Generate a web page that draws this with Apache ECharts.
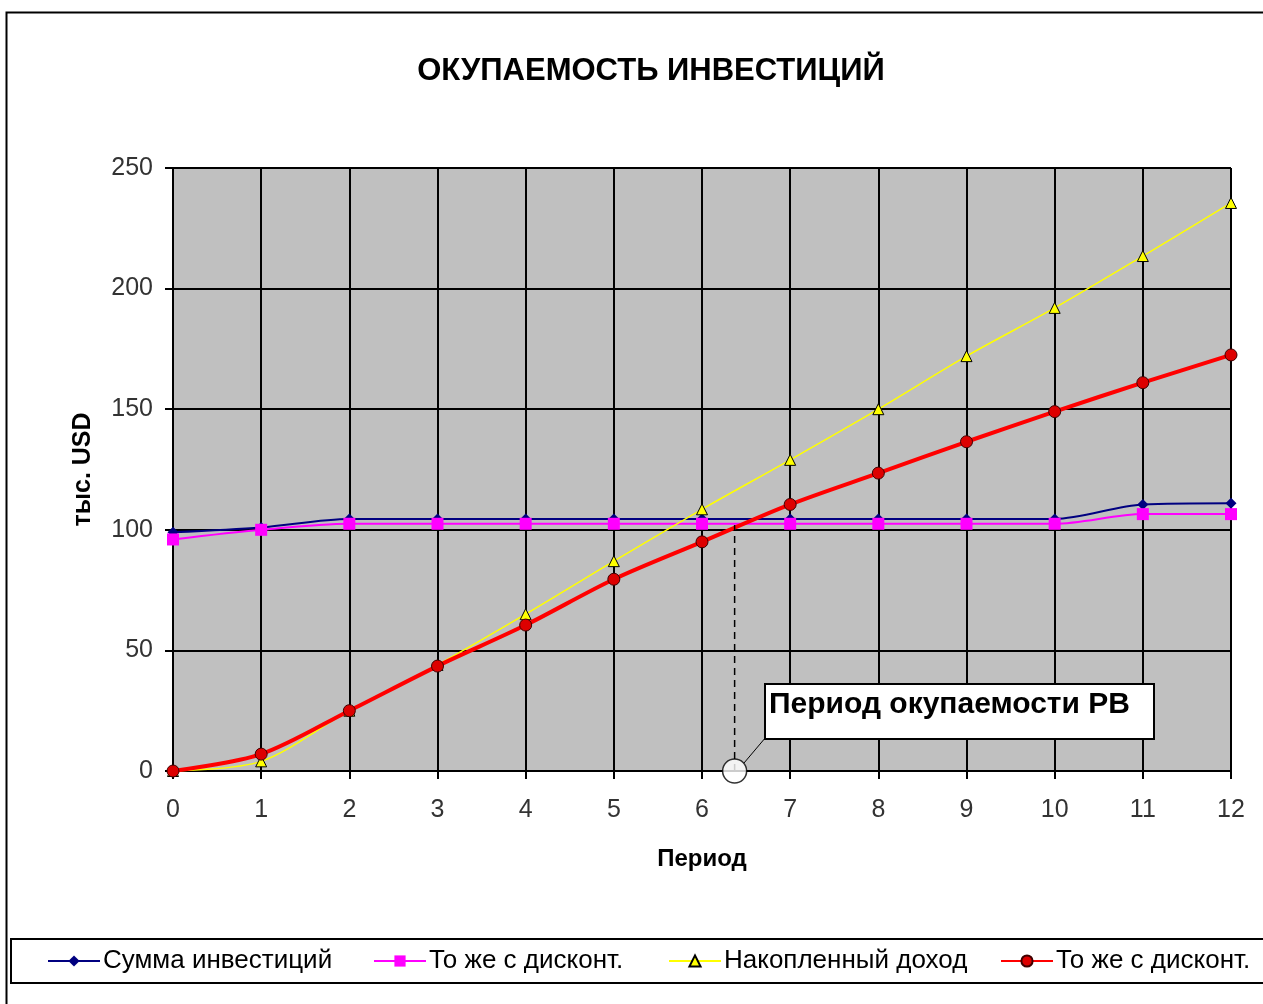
<!DOCTYPE html>
<html><head><meta charset="utf-8">
<script src="https://cdn.jsdelivr.net/npm/echarts@6/dist/echarts.min.js"></script>
<style>html,body{margin:0;padding:0;background:#fff}#c{width:1263px;height:1004px}</style>
</head><body><div id="c"></div>
<script>
const periods=[0,1,2,3,4,5,6,7,8,9,10,11,12];
const invest=[99,101,104.5,104.5,104.5,104.5,104.5,104.5,104.5,104.5,104.5,110.5,111];
const investDisc=[96,100,102.5,102.5,102.5,102.5,102.5,102.5,102.5,102.5,102.5,106.5,106.5];
const income=[0,4,25,44,65,87,108.5,129,150,172,192,213.5,235.5];
const incomeDisc=[0,7,25,43.5,60.5,79.5,95,110.5,123.5,136.5,149,161,172.5];
const yTicks=[0,50,100,150,200,250];
const paybackPeriod=6.37;
const paybackLevel=102;
const names=['Сумма инвестиций','То же с дисконт.','Накопленный доход','То же с дисконт.\u200B'];
const legendLefts=[47,373,668,1000];

const pairs=v=>periods.map((p,i)=>[p,v[i]]);
const FONT='"Liberation Sans", Arial, sans-serif';
const chart=echarts.init(document.getElementById('c'));
chart.setOption({
  backgroundColor:'#fff',
  animation:false,
  title:{text:'ОКУПАЕМОСТЬ ИНВЕСТИЦИЙ',left:646,top:51,textAlign:'center',
    textStyle:{fontFamily:FONT,fontSize:31,fontWeight:'bold',color:'#000'}},
  grid:{left:173,right:32,top:168,bottom:233,show:true,backgroundColor:'#c0c0c0',borderColor:'#000',borderWidth:1},
  legend:names.map((n,i)=>({left:legendLefts[i],top:948,padding:0,itemWidth:52,itemHeight:14,data:[n],
    textStyle:{fontFamily:FONT,fontSize:26,color:'#000',padding:[0,0,0,-2]}})),
  xAxis:{type:'value',min:0,max:12,interval:1,name:'Период',nameLocation:'middle',nameGap:76,
    nameTextStyle:{fontFamily:FONT,fontSize:24,fontWeight:'bold',color:'#000'},
    axisLine:{onZero:false,lineStyle:{color:'#000',width:2}},
    axisTick:{show:true,length:8,lineStyle:{color:'#000',width:2}},
    axisLabel:{margin:27,fontFamily:FONT,fontSize:25,color:'#333'},
    splitLine:{show:true,lineStyle:{color:'#000',width:2}}},
  yAxis:{type:'value',min:yTicks[0],max:yTicks[yTicks.length-1],interval:50,name:'тыс. USD',nameLocation:'middle',nameGap:77,
    nameTextStyle:{fontFamily:FONT,fontSize:25,fontWeight:'bold',color:'#000'},
    axisLine:{show:true,lineStyle:{color:'#000',width:2}},
    axisTick:{show:true,length:8,lineStyle:{color:'#000',width:2}},
    axisLabel:{margin:20,fontFamily:FONT,fontSize:25,color:'#333'},
    splitLine:{show:true,lineStyle:{color:'#000',width:2}}},
  graphic:[
    {type:'rect',left:4,top:10,shape:{width:1300,height:1100},style:{fill:'none',stroke:'#000',lineWidth:2},silent:true,z:-1},
    {type:'rect',left:10,top:938,shape:{width:1290,height:44},style:{fill:'#fff',stroke:'#000',lineWidth:2},silent:true,z:-1},
    {type:'line',shape:{x1:744,y1:763,x2:766,y2:737},style:{stroke:'#000',lineWidth:1},z:10},
    {type:'rect',left:764,top:683,shape:{width:389,height:55},style:{fill:'#fff',stroke:'#000',lineWidth:2},z:10},
    {type:'text',left:769,top:690,style:{text:'Период окупаемости РВ',fontFamily:FONT,fontSize:30,fontWeight:'bold',fill:'#000'},z:11}
  ],
  series:[
    {name:names[0],type:'line',smooth:0.3,data:pairs(invest),symbol:'diamond',symbolSize:11,
      lineStyle:{color:'#000080',width:2},itemStyle:{color:'#000080'},z:3},
    {name:names[1],type:'line',smooth:0.3,data:pairs(investDisc),symbol:'rect',symbolSize:12,
      lineStyle:{color:'#ff00ff',width:2},itemStyle:{color:'#ff00ff'},z:4},
    {name:names[2],type:'line',smooth:0.3,data:pairs(income),symbol:'triangle',symbolSize:11,
      lineStyle:{color:'#ffff00',width:1.5},itemStyle:{color:'#ffff00',borderColor:'#000',borderWidth:1},z:5},
    {name:names[3],type:'line',smooth:0.3,data:pairs(incomeDisc),symbol:'circle',symbolSize:12,
      lineStyle:{color:'#ff0000',width:4},itemStyle:{color:'#dd0000',borderColor:'#400000',borderWidth:1},z:6},
    {name:'payback',type:'line',data:[[paybackPeriod,0],[paybackPeriod,paybackLevel]],symbol:'none',
      lineStyle:{color:'#000',width:1.5,type:[7,5]},z:7},
    {name:'paybackPoint',type:'scatter',data:[[paybackPeriod,0]],symbol:'circle',symbolSize:24,
      itemStyle:{color:'#fff',borderColor:'#000',borderWidth:1.5},z:8}
  ]
});
</script></body></html>
